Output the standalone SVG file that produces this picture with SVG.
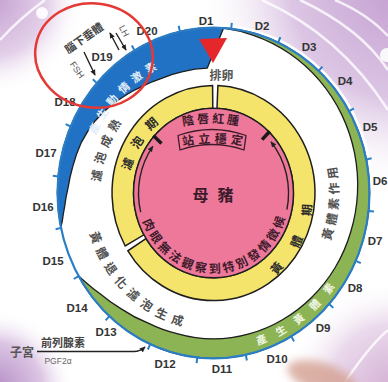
<svg xmlns="http://www.w3.org/2000/svg" width="388" height="382" viewBox="0 0 388 382">
<defs>
<style>
.t{font-family:"Liberation Sans","Noto Sans CJK TC",sans-serif;font-weight:bold;text-anchor:middle}
.d{font-family:"Liberation Sans",Arial,sans-serif;font-weight:bold;font-size:11.5px;fill:#333;text-anchor:middle}
.band{stroke:#1e1e1e;stroke-width:1.3;stroke-linejoin:round}
.yel{fill:#f4e46c;stroke:#1e1e1e;stroke-width:1.5}
.tick{stroke:#2b7ec6;stroke-width:2}
.ar{fill:none;stroke:#222;stroke-width:1.4}
.gray{fill:#505050;font-size:12px}
.pk{fill:#3d1a2b}
</style>
<marker id="ah" viewBox="0 0 8 8" refX="7" refY="4" markerWidth="6" markerHeight="6" markerUnits="userSpaceOnUse" orient="auto"><path d="M0,0.5 L8,4 L0,7.5 Z" fill="#222"/></marker>
<radialGradient id="gTR" cx="405" cy="-15" r="210" gradientUnits="userSpaceOnUse"><stop offset="0" stop-color="#c29cd0"/><stop offset="0.55" stop-color="#dcc6e4"/><stop offset="1" stop-color="#ffffff" stop-opacity="0"/></radialGradient>
<radialGradient id="gTL" cx="-10" cy="0" r="95" gradientUnits="userSpaceOnUse"><stop offset="0" stop-color="#c49fd0"/><stop offset="0.6" stop-color="#e3d0e9"/><stop offset="1" stop-color="#ffffff" stop-opacity="0"/></radialGradient>
<radialGradient id="gBL" cx="-5" cy="390" r="80" gradientUnits="userSpaceOnUse"><stop offset="0" stop-color="#b48bc4"/><stop offset="0.6" stop-color="#dcc6e4"/><stop offset="1" stop-color="#ffffff" stop-opacity="0"/></radialGradient>
<radialGradient id="gBR" cx="395" cy="390" r="110" gradientUnits="userSpaceOnUse"><stop offset="0" stop-color="#d3aed3"/><stop offset="0.6" stop-color="#ead9ec"/><stop offset="1" stop-color="#ffffff" stop-opacity="0"/></radialGradient>
<filter id="blur" x="-50%" y="-50%" width="200%" height="200%"><feGaussianBlur stdDeviation="4"/></filter>
<path id="p1" d="M132.4,221.8 A85.5 90.63 0 0 1 215.7,102.4"/>
<path id="p2" d="M225.2,296.8 A98.6 104.52 0 0 0 292.4,130.4"/>
<path id="p3" d="M113.1,248.9 A113.4 120.2 0 0 1 179.0,78.5"/>
<path id="p4" d="M84.2,188.9 A129.4 137.16 0 0 0 232.2,328.7"/>
<path id="p5" d="M295.4,293.2 A125.1 132.6 0 0 0 308.1,106.2"/>
<path id="p6" d="M83.7,189.6 A129.8 137.59 0 0 1 216.7,55.5"/>
<path id="p7" d="M206.5,351.8 A150 159 0 0 0 359.8,228.0"/>
<path id="p8" d="M138.5,202.9 A75.6 80.14 0 0 0 289.0,197.1"/>
<path id="p9" d="M178.4,127 Q211.9,119 245.4,127"/>
<path id="p10" d="M180.5,146.5 Q214.5,139.5 248.5,146.5"/>
</defs>

<g id="background">
<rect width="388" height="382" fill="#ffffff"/>
<rect width="388" height="382" fill="url(#gTR)"/>
<rect width="388" height="382" fill="url(#gTL)"/>
<rect width="388" height="382" fill="url(#gBL)"/>
<rect width="388" height="382" fill="url(#gBR)"/>
<g fill="none" stroke="#ffffff" stroke-width="2.5" opacity="0.8">
<path d="M262,0 Q340,35 388,110"/>
<path d="M300,0 Q360,28 388,70"/>
<path d="M335,0 Q368,14 388,36"/>
<path d="M0,40 Q20,18 45,0"/>
<path d="M345,382 Q370,345 388,330"/>
</g>
<circle cx="42" cy="13" r="6" fill="#ffffff" opacity="0.9"/>
<circle cx="387" cy="55" r="7" fill="#ffffff" opacity="0.9"/>
<ellipse cx="213.5" cy="193" rx="160" ry="169" fill="#ffffff"/>
<ellipse cx="322" cy="378" rx="36" ry="15" transform="rotate(18 322 378)" fill="#d4a091" opacity="0.8" filter="url(#blur)"/>
</g>

<g id="n-estrogen">
<path class="band" fill="#2172c4" d="M60.9,227.4 A156 165.36 0 0 1 223.6,28.0 L207.3,68.1 A118.25 125.3 0 0 0 182.8,71.7 A119.25 126.4 0 0 0 160.9,78.7 A121.5 128.8 0 0 0 142.9,86.2 A125 132.5 0 0 0 126.9,94.5 A129.5 137.3 0 0 0 109.5,106.8 A134 142 0 0 0 95.3,120.7 A138.5 146.8 0 0 0 81.5,142.1 A141.75 150.3 0 0 0 72.7,166.7 A144.25 152.9 0 0 0 68.1,187.6 A147.5 156.4 0 0 0 64.6,206.8 A151.5 160.6 0 0 0 62.3,221.2 A154.75 164 0 0 0 60.9,227.4 Z"/>
<text class="t" font-size="11" letter-spacing="5.3" fill="#e3eef8"><textPath href="#p6" startOffset="50%">產生動情激素</textPath></text>
</g>

<g id="n-progesterone">
<path class="band" fill="#8cb455" d="M223.6,28.0 A156 165.36 0 1 1 78.4,275.7 A154.25 163.5 0 0 0 87.1,283.4 A150.25 159.3 0 0 0 100.1,293.8 A145.5 154.2 0 0 0 121.6,309.1 A141 149.5 0 0 0 148.2,323.1 A138.25 146.5 0 0 0 177.9,333.8 A137.5 145.75 0 0 0 213.5,338.8 A137.5 145.75 0 0 0 249.1,333.8 A137.75 146 0 0 0 282.5,319.7 A138.5 146.8 0 0 0 311.8,297.2 A139.75 148.1 0 0 0 335.2,267.5 A141.25 149.7 0 0 0 350.7,232.0 A143 151.6 0 0 0 357.5,193 A145 153.7 0 0 0 354.5,152.9 A147 155.8 0 0 0 341.7,114.6 A149 157.9 0 0 0 319.6,80.6 A151 160.1 0 0 0 289.5,53.5 A153 162.2 0 0 0 253.4,35.3 A155 164.3 0 0 0 223.6,28.0 Z"/>
<text class="t" font-size="10.5" letter-spacing="11.5" fill="#f0f6e4"><textPath href="#p7" startOffset="50%">產生黃體素</textPath></text>
</g>

<g id="n-days">
<ellipse cx="213.5" cy="193" rx="156" ry="165.36" fill="none" stroke="#2b7ec6" stroke-width="2.2"/>
<g class="tick">
<line x1="231.2" y1="28.7" x2="231.8" y2="22.9"/>
<line x1="278.1" y1="42.5" x2="280.4" y2="37.2"/>
<line x1="318.7" y1="70.9" x2="322.4" y2="66.6"/>
<line x1="349.1" y1="111.2" x2="353.9" y2="108.3"/>
<line x1="366.3" y1="159.5" x2="371.6" y2="158.3"/>
<line x1="368.6" y1="211.0" x2="374.0" y2="211.6"/>
<line x1="355.8" y1="260.8" x2="360.8" y2="263.2"/>
<line x1="329.2" y1="304.0" x2="333.3" y2="307.9"/>
<line x1="291.3" y1="336.3" x2="294.0" y2="341.4"/>
<line x1="245.8" y1="354.8" x2="246.9" y2="360.5"/>
<line x1="197.2" y1="357.5" x2="196.6" y2="363.2"/>
<line x1="150.2" y1="344.1" x2="147.9" y2="349.5"/>
<line x1="109.3" y1="316.1" x2="105.7" y2="320.4"/>
<line x1="78.6" y1="276.1" x2="73.8" y2="279.0"/>
<line x1="61.0" y1="227.9" x2="55.6" y2="229.2"/>
<line x1="58.3" y1="176.4" x2="52.8" y2="175.8"/>
<line x1="70.7" y1="126.5" x2="65.6" y2="124.2"/>
<line x1="96.9" y1="83.1" x2="92.8" y2="79.2"/>
<line x1="134.6" y1="50.4" x2="131.8" y2="45.4"/>
<line x1="179.9" y1="31.5" x2="178.7" y2="25.8"/>
</g>
<text class="d" x="206" y="25">D1</text>
<text class="d" x="262" y="30">D2</text>
<text class="d" x="309" y="51">D3</text>
<text class="d" x="345" y="85">D4</text>
<text class="d" x="370" y="131">D5</text>
<text class="d" x="380" y="185">D6</text>
<text class="d" x="375" y="245">D7</text>
<text class="d" x="355" y="292">D8</text>
<text class="d" x="323" y="332">D9</text>
<text class="d" x="277" y="363">D10</text>
<text class="d" x="222" y="373">D11</text>
<text class="d" x="165" y="368">D12</text>
<text class="d" x="106" y="336">D13</text>
<text class="d" x="77" y="312">D14</text>
<text class="d" x="53" y="265">D15</text>
<text class="d" x="43" y="211">D16</text>
<text class="d" x="46" y="157">D17</text>
<text class="d" x="65" y="106">D18</text>
<text class="d" x="102" y="61">D19</text>
<text class="d" x="147" y="35">D20</text>
</g>

<g id="n-white-band">
<text class="t gray"><textPath href="#p3" startOffset="50%" letter-spacing="5.2">濾泡成熟</textPath></text>
<text class="t gray" font-size="11.5"><textPath href="#p4" startOffset="50%" letter-spacing="5.8">黃體退化濾泡生成</textPath></text>
<text class="t gray"><textPath href="#p5" startOffset="50%" letter-spacing="3.9">黃體素作用</textPath></text>
</g>

<g id="n-follicular">
<path class="yel" d="M125.2,246.0 A101.5 107.59 0 0 1 212.6,85.4 L212.8,108.2 A80 84.8 0 0 0 143.9,234.8 Z"/>
<text class="t" font-size="12" fill="#2a2a2a" letter-spacing="10.4"><textPath href="#p1" startOffset="50%">濾泡期</textPath></text>
</g>

<g id="n-luteal">
<path class="yel" d="M217.9,85.5 A101.5 107.59 0 1 1 127.9,250.8 L146.0,238.6 A80 84.8 0 1 0 217.0,108.3 Z"/>
<text class="t" font-size="12" fill="#2a2a2a" letter-spacing="22.4"><textPath href="#p2" startOffset="50%">黃體期</textPath></text>
</g>

<g id="n-sow">
<ellipse cx="213.5" cy="193" rx="80" ry="84.8" fill="#ee7899" stroke="#1e1e1e" stroke-width="1.5"/>
<text class="t pk" font-size="12" letter-spacing="2.7"><textPath href="#p9" startOffset="50%">陰唇紅腫</textPath></text>
<path d="M178,135.5 Q212,123.5 246,135.5 L244,150 Q212,139 180,150 Z" fill="none" stroke="#3d1a2b" stroke-width="1.3" stroke-linejoin="round"/>
<text class="t pk" font-size="12" letter-spacing="4"><textPath href="#p10" startOffset="50%">站立穩定</textPath></text>
<text class="t pk" x="217.5" y="201" font-size="16" letter-spacing="9">母豬</text>
<text class="t pk" font-size="12" letter-spacing="2.8"><textPath href="#p8" startOffset="50%">肉眼無法觀察到特別發情徵候</textPath></text>
<line x1="161.5" y1="143.4" x2="153.3" y2="135.6" stroke="#1a1a1a" stroke-width="3.5"/>
<line x1="262.1" y1="139.6" x2="269.8" y2="131.2" stroke="#1a1a1a" stroke-width="3.5"/>
</g>

<g id="n-ovulation">
<path d="M199,39 L227,38 L213,63 Z" fill="#e5262b"/>
<text class="t" x="221.5" y="79.5" font-size="12" fill="#555">排卵</text>
</g>

<g id="n-pituitary">
<text class="t" x="84" y="42" font-size="11" fill="#444" transform="rotate(-35 84 38)">腦下垂體</text>
<text x="77" y="73" font-family="Liberation Sans, Arial, sans-serif" font-size="9" fill="#555" text-anchor="middle" transform="rotate(55 77 70)">FSH</text>
<text x="124" y="34" font-family="Liberation Sans, Arial, sans-serif" font-size="9" fill="#555" text-anchor="middle" transform="rotate(62 124 31)">LH</text>
</g>

<g id="n-uterus">
<text class="t" x="22" y="356.5" font-size="12" font-weight="normal" fill="#555">子宮</text>
<text class="t" x="63" y="347" font-size="11" font-weight="normal" fill="#444">前列腺素</text>
<text x="58" y="363.5" font-family="Liberation Sans, Arial, sans-serif" font-size="8.5" fill="#666" text-anchor="middle">PGF2α</text>
</g>

<g id="connectors">
<path class="ar" d="M84,52 L95,75" marker-end="url(#ah)"/>
<path class="ar" d="M119,50 L110,33" marker-end="url(#ah)"/>
<path class="ar" d="M116,33 L126,50" marker-end="url(#ah)"/>
<path class="ar" stroke-width="1.2" d="M37,351.5 L134,351.5 Q140,351.5 145,347" marker-end="url(#ah)"/>
<path class="ar" stroke="#3d1a2b" stroke-width="1.3" d="M140.7,212.2 A75 79.5 0 0 1 152.8,146.3" marker-end="url(#ah)"/>
<path class="ar" stroke="#3d1a2b" stroke-width="1.3" d="M286.9,209.5 A75 79.5 0 0 0 271.0,141.9" marker-end="url(#ah)"/>
</g>

<g id="n-annotation">
<ellipse cx="94" cy="55.5" rx="59" ry="52" transform="rotate(10 94 55.5)" fill="none" stroke="#e53935" stroke-width="2.5"/>
</g>
</svg>
